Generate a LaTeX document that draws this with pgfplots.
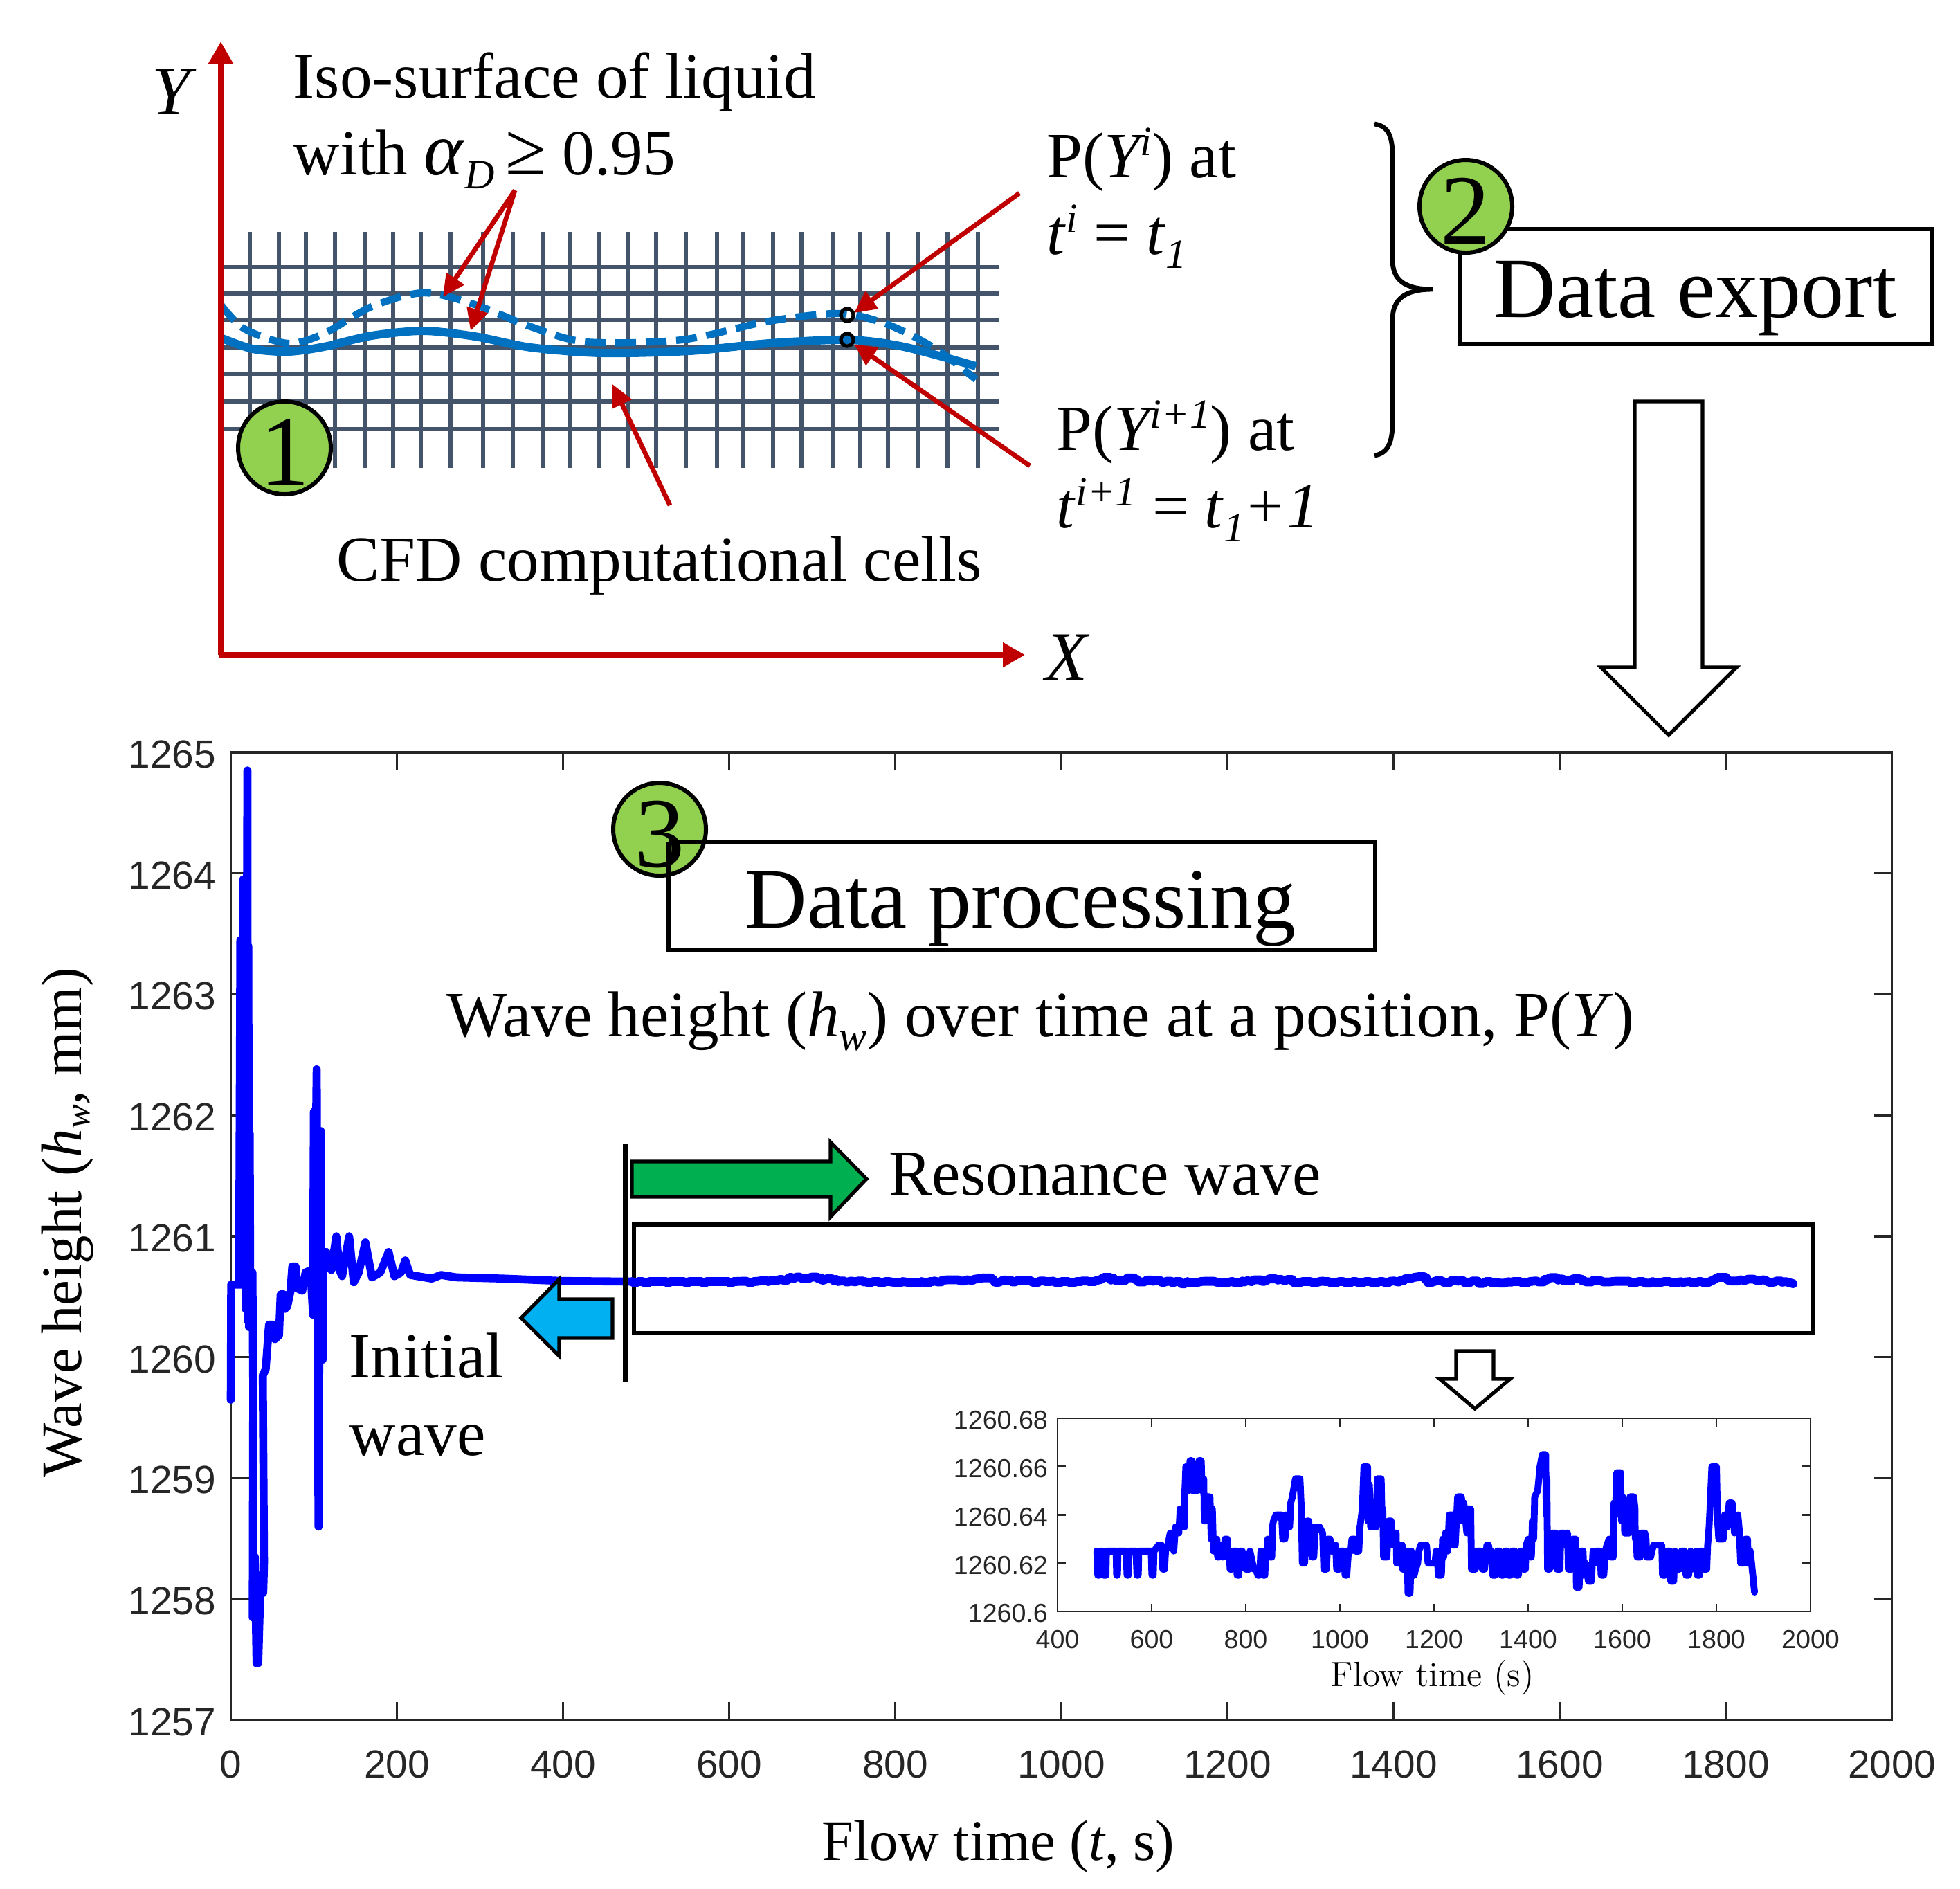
\documentclass[border=0pt]{standalone}
\usepackage{fontspec}
\usepackage{pgfplots}
\usepackage{pgfplotstable}
\pgfplotsset{compat=1.18}
\usetikzlibrary{arrows.meta}
\setmainfont{Liberation Serif}
\newfontfamily\arial{Liberation Sans}
\definecolor{dred}{HTML}{C00000}
\definecolor{gridc}{HTML}{44546A}
\definecolor{wavec}{HTML}{0070C0}
\definecolor{circ}{HTML}{92D050}
\definecolor{ticks}{HTML}{262626}
\newcommand{\fs}[1]{\fontsize{#1}{#1}\selectfont}
\newcommand{\sups}[1]{\raisebox{8pt}{\fs{15}\itshape #1}}
\newcommand{\subs}[1]{\raisebox{-5pt}{\fs{15}\itshape #1}}

% initial wave, t < 480 s
\pgfplotstableread[row sep=\\]{
t v \\
0 1259.65 \\ 0.5 1260.6 \\ 10 1260.6 \\ 11.5 1263.45 \\ 12 1260.6 \\ 12.5 1263.45 \\ 14 1260.6 \\
15 1263.95 \\ 16 1260.6 \\ 17 1263.95 \\ 18 1260.4 \\ 20 1264.85 \\ 20.5 1260.3 \\ 21 1263.4 \\
22 1260.25 \\ 22.7 1261.85 \\ 23.5 1260.25 \\ 25 1260.7 \\ 26 1260.7 \\ 27 1259.75 \\ 26.4 1257.85 \\
29 1258.35 \\ 31 1257.47 \\ 33 1257.47 \\ 36 1258.2 \\ 39 1258.05 \\ 40 1258.3 \\ 38.5 1259.85 \\ 42 1259.9 \\
46 1260.27 \\ 50 1260.27 \\ 53 1260.15 \\ 58 1260.18 \\ 60 1260.52 \\ 64 1260.52 \\ 65 1260.4 \\
68 1260.42 \\ 72 1260.55 \\ 74 1260.75 \\ 78 1260.75 \\ 80 1260.57 \\ 86 1260.55 \\ 90 1260.7 \\
96 1260.72 \\ 99 1260.35 \\ 100 1262.03 \\ 101 1260.35 \\ 102 1261.5 \\ 103.4 1262.38 \\ 104.5 1260.5 \\
105.6 1258.6 \\ 106.5 1260 \\ 108.3 1261.87 \\ 109 1260.3 \\ 110.5 1259.98 \\ 111.6 1260.85 \\
115 1260.87 \\ 121 1260.72 \\ 127 1261.0 \\ 131 1260.72 \\ 134 1260.67 \\ 142.5 1261.0 \\ 148 1260.62 \\
154 1260.7 \\ 162 1260.95 \\ 170 1260.66 \\ 180 1260.7 \\ 190 1260.87 \\ 197 1260.67 \\ 205 1260.7 \\
210 1260.8 \\ 216 1260.68 \\ 242 1260.65 \\ 253 1260.68 \\ 272 1260.66 \\ 327 1260.65 \\ 400 1260.63 \\
483 1260.625 \\
}\initial

% resonance wave, also the inset
\pgfplotstableread[row sep=\\]{
t v \\
483.4 1260.625 \\ 485.3 1260.615 \\ 488.3 1260.615 \\ 490.2 1260.625 \\ 496.1 1260.625 \\ 498 1260.615 \\
503 1260.615 \\ 504 1260.625 \\ 524.5 1260.625 \\ 525.5 1260.615 \\ 527.5 1260.615 \\ 528.5 1260.625 \\
546 1260.625 \\ 547.6 1260.615 \\ 550.5 1260.615 \\ 552 1260.625 \\ 566.7 1260.625 \\ 568.7 1260.615 \\
571.6 1260.615 \\ 572.6 1260.625 \\ 599 1260.625 \\ 600.5 1260.615 \\ 603.5 1260.615 \\ 605 1260.625 \\
614.7 1260.6275 \\ 621 1260.6275 \\ 623.6 1260.6175 \\ 627.5 1260.6175 \\ 629.5 1260.625 \\
634.4 1260.6275 \\ 639.3 1260.6325 \\ 645.6 1260.6325 \\ 647 1260.625 \\ 650.5 1260.635 \\ 655.4 1260.635 \\
657.9 1260.6325 \\ 660.3 1260.6425 \\ 663.8 1260.6425 \\ 665.7 1260.635 \\ 670.1 1260.635 \\ 670.6 1260.65 \\
672.6 1260.66 \\ 675.5 1260.66 \\ 677.5 1260.65 \\ 681.4 1260.6625 \\ 685.3 1260.6625 \\ 687.3 1260.65 \\
696.1 1260.65 \\ 698 1260.66 \\ 700.5 1260.6625 \\ 705.4 1260.6625 \\ 706.9 1260.65 \\ 708.4 1260.655 \\
710.8 1260.655 \\ 711.8 1260.6375 \\ 714.3 1260.6375 \\ 716.7 1260.6475 \\ 724 1260.6475 \\ 726.5 1260.63 \\
729 1260.6425 \\ 731.4 1260.625 \\ 733.9 1260.63 \\ 738.8 1260.63 \\ 740 1260.6225 \\ 743.7 1260.6225 \\
745 1260.6275 \\ 748.6 1260.6275 \\ 751 1260.6225 \\ 756 1260.63 \\ 760.8 1260.63 \\ 761.8 1260.6225 \\
764.8 1260.625 \\ 766.7 1260.6175 \\ 770.6 1260.6175 \\ 773.1 1260.625 \\ 780.4 1260.625 \\ 781.4 1260.615 \\
785.3 1260.615 \\ 787.8 1260.625 \\ 792.7 1260.625 \\ 800 1260.6175 \\ 807.4 1260.6175 \\ 808.9 1260.625 \\
817.2 1260.6175 \\ 821.1 1260.6175 \\ 825.5 1260.615 \\ 829.5 1260.615 \\ 831.9 1260.625 \\ 836.8 1260.615 \\
840.7 1260.615 \\ 841.7 1260.625 \\ 845.1 1260.625 \\ 846.6 1260.63 \\ 851.5 1260.6225 \\ 855.4 1260.6225 \\
856.4 1260.635 \\ 858.9 1260.6375 \\ 863.8 1260.64 \\ 876 1260.64 \\ 878.5 1260.63 \\ 883.4 1260.63 \\
885.8 1260.64 \\ 893.2 1260.635 \\ 895.6 1260.645 \\ 899 1260.6475 \\ 905.4 1260.655 \\ 915.2 1260.655 \\
918 1260.6425 \\ 920.1 1260.62 \\ 925 1260.62 \\ 930 1260.6375 \\ 933.9 1260.6375 \\ 936 1260.63 \\
939.7 1260.635 \\ 941 1260.6225 \\ 944.7 1260.6225 \\ 947.1 1260.635 \\ 956.9 1260.635 \\ 963.3 1260.6325 \\
965.7 1260.6175 \\ 971.6 1260.6175 \\ 974.1 1260.63 \\ 979 1260.63 \\ 981.4 1260.625 \\ 985 1260.625 \\
989 1260.6275 \\ 991 1260.6275 \\ 993 1260.6175 \\ 999 1260.6175 \\ 1000 1260.625 \\ 1008.4 1260.625 \\
1010.8 1260.615 \\ 1014.7 1260.615 \\ 1018.2 1260.625 \\ 1023 1260.625 \\ 1025.5 1260.63 \\ 1031.4 1260.63 \\
1032.9 1260.625 \\ 1040.2 1260.625 \\ 1042.7 1260.635 \\ 1047.6 1260.6425 \\ 1051 1260.66 \\ 1058.9 1260.66 \\
1059.8 1260.6375 \\ 1062.8 1260.6525 \\ 1065.2 1260.635 \\ 1077 1260.635 \\ 1079.5 1260.655 \\ 1087.8 1260.655 \\
1089.3 1260.64 \\ 1091.2 1260.6425 \\ 1092.7 1260.6225 \\ 1100 1260.6225 \\ 1103 1260.6375 \\ 1108.9 1260.6375 \\
1110.3 1260.6275 \\ 1113.8 1260.6325 \\ 1119.7 1260.6325 \\ 1120.6 1260.62 \\ 1124.6 1260.62 \\ 1126.5 1260.6275 \\
1132.4 1260.6275 \\ 1133.4 1260.6175 \\ 1135.8 1260.6175 \\ 1137.3 1260.625 \\ 1143.2 1260.625 \\ 1144.6 1260.6075 \\
1149.1 1260.6075 \\ 1152 1260.625 \\ 1154.5 1260.615 \\ 1157.9 1260.615 \\ 1160.8 1260.6175 \\ 1165.2 1260.62 \\
1167.7 1260.625 \\ 1171.6 1260.6275 \\ 1183.9 1260.6275 \\ 1187.3 1260.62 \\ 1202 1260.62 \\ 1204.5 1260.625 \\
1206.9 1260.625 \\ 1208.9 1260.615 \\ 1215.7 1260.615 \\ 1218.2 1260.63 \\ 1220.6 1260.6225 \\ 1224.1 1260.6325 \\
1229 1260.625 \\ 1232.4 1260.64 \\ 1240.2 1260.64 \\ 1241.2 1260.6275 \\ 1245.1 1260.6275 \\ 1250 1260.6475 \\
1258.4 1260.6475 \\ 1260.8 1260.6375 \\ 1263.3 1260.645 \\ 1269.7 1260.6325 \\ 1271.6 1260.6425 \\ 1278 1260.6425 \\
1279.5 1260.6175 \\ 1287.8 1260.6175 \\ 1290.2 1260.625 \\ 1300 1260.625 \\ 1302.5 1260.6175 \\ 1307.4 1260.6175 \\
1312.3 1260.6275 \\ 1315.7 1260.6275 \\ 1318.2 1260.625 \\ 1322.1 1260.625 \\ 1324.6 1260.615 \\ 1330.4 1260.615 \\
1334.4 1260.625 \\ 1339.3 1260.625 \\ 1343.2 1260.615 \\ 1347.6 1260.615 \\ 1351.1 1260.625 \\ 1355 1260.625 \\
1357.9 1260.615 \\ 1362.8 1260.615 \\ 1366.2 1260.625 \\ 1371.6 1260.625 \\ 1374.6 1260.615 \\ 1379.5 1260.615 \\
1383.4 1260.625 \\ 1387.3 1260.625 \\ 1389.8 1260.6175 \\ 1394.2 1260.6175 \\ 1395.6 1260.6275 \\ 1400.5 1260.63 \\
1405.4 1260.6225 \\ 1406.9 1260.6225 \\ 1408.9 1260.6375 \\ 1411.8 1260.63 \\ 1413.8 1260.6475 \\ 1420.2 1260.65 \\
1425.1 1260.66 \\ 1430 1260.665 \\ 1437.3 1260.665 \\ 1438.3 1260.64 \\ 1439.8 1260.655 \\ 1441.2 1260.6175 \\
1445.6 1260.6175 \\ 1452 1260.6325 \\ 1457.9 1260.6325 \\ 1460.8 1260.6175 \\ 1467.7 1260.6175 \\ 1469.2 1260.6325 \\
1475.5 1260.6325 \\ 1477 1260.6275 \\ 1480.4 1260.6325 \\ 1483.9 1260.6325 \\ 1485.3 1260.6175 \\ 1492.2 1260.6175 \\
1495.1 1260.63 \\ 1501 1260.63 \\ 1502.5 1260.61 \\ 1508.4 1260.61 \\ 1510.8 1260.625 \\ 1516.7 1260.625 \\
1518.2 1260.615 \\ 1522.1 1260.62 \\ 1528 1260.6125 \\ 1534.4 1260.6125 \\ 1537.8 1260.625 \\ 1541.2 1260.62 \\
1544.2 1260.625 \\ 1552.5 1260.625 \\ 1555 1260.615 \\ 1560.8 1260.615 \\ 1563.8 1260.625 \\ 1567.2 1260.6275 \\
1572.1 1260.63 \\ 1574.6 1260.6225 \\ 1580.9 1260.6225 \\ 1582.4 1260.645 \\ 1585.3 1260.64 \\ 1588.3 1260.6575 \\
1596.6 1260.6575 \\ 1598.1 1260.6375 \\ 1601 1260.6475 \\ 1604 1260.645 \\ 1605 1260.6325 \\ 1614.8 1260.6325 \\
1616.2 1260.6475 \\ 1624.6 1260.6475 \\ 1627 1260.6425 \\ 1627.5 1260.63 \\ 1630 1260.63 \\ 1631.4 1260.6225 \\
1638.3 1260.6225 \\ 1639.8 1260.6325 \\ 1648.1 1260.6325 \\ 1650.5 1260.63 \\ 1652 1260.6225 \\ 1660.4 1260.6225 \\
1662.8 1260.625 \\ 1666.7 1260.6275 \\ 1683.9 1260.6275 \\ 1685.4 1260.615 \\ 1691.2 1260.615 \\ 1694.7 1260.625 \\
1701 1260.625 \\ 1703 1260.6125 \\ 1709.4 1260.6125 \\ 1711.8 1260.625 \\ 1715.7 1260.6175 \\ 1721.6 1260.6175 \\
1725.5 1260.625 \\ 1732.4 1260.625 \\ 1735.4 1260.615 \\ 1741.2 1260.615 \\ 1745.2 1260.625 \\ 1748.6 1260.6175 \\
1752 1260.6225 \\ 1757 1260.625 \\ 1759.4 1260.615 \\ 1764.3 1260.615 \\ 1766.7 1260.625 \\ 1770.6 1260.625 \\
1773.1 1260.6175 \\ 1779.5 1260.6175 \\ 1781.4 1260.6275 \\ 1784.4 1260.635 \\ 1786.3 1260.6425 \\ 1790.3 1260.66 \\
1800.1 1260.66 \\ 1802.5 1260.6375 \\ 1805 1260.63 \\ 1814.8 1260.63 \\ 1817.2 1260.64 \\ 1823.1 1260.635 \\
1827 1260.645 \\ 1833.4 1260.645 \\ 1835.3 1260.64 \\ 1838.3 1260.6325 \\ 1845.6 1260.64 \\ 1848.1 1260.635 \\
1851.5 1260.62 \\ 1857.9 1260.62 \\ 1861.3 1260.63 \\ 1866.2 1260.63 \\ 1867.7 1260.62 \\ 1872.1 1260.625 \\
1876 1260.6175 \\ 1881 1260.608 \\
}\resonance

\pgfplotsset{
  page/.style={at={(0pt,0pt)},anchor=north west,scale only axis,width=708pt,height=682pt,
    xmin=0,xmax=2832,ymin=0,ymax=2728,y dir=reverse,hide axis,clip=false},
  matlab/.style={scale only axis,clip=false,tick align=inside,tick pos=both,
    ticklabel style={color=ticks},
    /pgf/number format/1000 sep={},/pgf/number format/fixed,/pgf/number format/precision=2,
    /pgf/number format/assume math mode=true,scaled ticks=false},
}
\tikzset{
  wave/.style={color=blue,line cap=round,line join=round},
  txt/.style={anchor=base west,inner sep=0pt,font=\fs{23.3}},
  num/.style={circle,draw=black,fill=circ,line width=1.5pt,minimum size=33.5pt,inner sep=0pt},
  digit/.style={anchor=base,inner sep=0pt,font=\fs{36}},
  rarrow/.style={color=dred,line width=1.7pt,-{Triangle[length=8pt,width=7.5pt]}},
}

\begin{document}
\begin{tikzpicture}
\useasboundingbox (0pt,0pt) rectangle (708pt,-682pt);

% things that lie under the main curve
\begin{axis}[page]
  \draw[line width=1.3pt] (916,1769) rectangle (2620,1926);
\end{axis}

% main plot
\begin{axis}[matlab,at={(83.375pt,-621.25pt)},anchor=south west,width=600pt,height=349.5pt,
  xmin=0,xmax=2000,ymin=1257,ymax=1265,
  xtick={0,200,...,2000},ytick={1257,1258,...,1265},
  major tick length=6.5pt,axis line style={line width=0.8pt,color=ticks},tick style={line width=0.8pt,color=ticks},
  ticklabel style={font=\arial\fs{14.2}},
  xticklabel style={yshift=-7.5pt},
  yticklabel style={xshift=-1.8pt,yshift=-0.7pt},
  xlabel={Flow time (\textit{t}, s)},
  xlabel style={font=\fs{20.7},at={(axis description cs:0.462,-0.1445)},anchor=base},
  ylabel={Wave height (\textit{h}\raisebox{-3pt}{\fs{13}\itshape w}, mm)},
  ylabel style={font=\fs{20.7},at={(axis description cs:-0.0902,0.514)},anchor=base},
]
\addplot[wave,no markers,line width=2.9pt] table[x=t,y=v] {\initial};
\addplot[wave,no markers,line width=3.2pt] table[x=t,y=v] {\resonance};
\end{axis}

% inset
\begin{axis}[matlab,at={(382pt,-582pt)},anchor=south west,width=272pt,height=69.75pt,
  xmin=400,xmax=2000,ymin=1260.6,ymax=1260.68,
  xtick={400,600,...,2000},ytick={1260.6,1260.62,1260.64,1260.66,1260.68},
  yticklabels={1260.6,1260.62,1260.64,1260.66,1260.68},
  major tick length=2.9pt,axis line style={line width=0.7pt,color=ticks},tick style={line width=0.7pt,color=ticks},
  ticklabel style={font=\arial\fs{9.4}},
  xticklabel style={yshift=-3.2pt},
  yticklabel style={yshift=-0.7pt},
  xlabel={\fontfamily{lmr}\selectfont Flow time (s)},
  xlabel style={font=\fs{12.7},at={(axis description cs:0.498,-0.387)},anchor=base},
]
\addplot[wave,no markers,line width=2.45pt] table[x=t,y=v] {\resonance};
\end{axis}

% schematic and annotations, axis units are reference pixels
\begin{axis}[page]
  % computational cells
  \pgfplotsinvokeforeach{361,403,442,484,527,568,608,651,698,741,784,824,865,908,948,991,1036,1074,1117,1158,1203,1243,1283,1326,1369,1413}{
    \addplot[color=gridc,line width=1.3pt,forget plot] coordinates {(#1,335) (#1,676)};
  }
  \pgfplotsinvokeforeach{386,424,462,502,540,580,620}{
    \addplot[color=gridc,line width=1.3pt,forget plot] coordinates {(319,#1) (1444,#1)};
  }
  % interface at the two times
  \addplot[color=wavec,line width=2.6pt,smooth,dash pattern=on 7.5pt off 3.5pt,forget plot] coordinates {
    (319,440) (353,475) (416,496) (468,482) (537,443) (612,423) (686,440) (767,472)
    (847,494) (985,491) (1111,464) (1214,453) (1283,469) (1352,504) (1410,548)};
  \addplot[color=wavec,line width=3pt,smooth,forget plot] coordinates {
    (319,488) (365,504) (416,508) (468,501) (537,485) (612,478) (686,486) (767,502)
    (870,510) (996,507) (1111,496) (1226,491) (1306,501) (1410,529)};
  \node[circle,draw=black,line width=1.3pt,minimum size=4.5pt,inner sep=0pt] at (1224,455) {};
  \node[circle,draw=black,line width=1.3pt,minimum size=4.5pt,inner sep=0pt] at (1224,491) {};
  % X and Y axes of the sketch
  \draw[color=dred,line width=2pt,-{Triangle[length=8pt,width=8.5pt]}] (319,946) -- (319,60);
  \draw[color=dred,line width=2pt,-{Triangle[length=8pt,width=8.5pt]}] (316,946) -- (1481,946);
  % pointers
  \draw[rarrow] (744,275) -- (640,429);
  \draw[rarrow] (744,275) -- (680,478);
  \draw[rarrow] (1473,279) -- (1234,452);
  \draw[rarrow] (1488,673) -- (1234,497);
  \draw[rarrow] (968,730) -- (885,555);
  % boxes
  \draw[line width=1.5pt] (2109,331) rectangle (2792,497);
  \draw[line width=1.5pt] (966,1217) rectangle (1987,1372);
  % brace
  \draw[line width=1.7pt] (1986,179) .. controls (2005,182) and (2012,195) .. (2012,225)
    -- (2012,375) .. controls (2012,405) and (2030,418) .. (2070,418)
    .. controls (2030,418) and (2012,432) .. (2012,462)
    -- (2012,610) .. controls (2012,640) and (2005,655) .. (1986,658);
  % hollow arrows
  \draw[line width=1.3pt,fill=white] (2362,580) -- (2460,580) -- (2460,964) -- (2509,964) -- (2411,1062)
    -- (2313,964) -- (2362,964) -- cycle;
  \draw[line width=1.3pt,fill=white] (2104,1952) -- (2158,1952) -- (2158,1992) -- (2182,1992) -- (2131,2035)
    -- (2080,1992) -- (2104,1992) -- cycle;
  % filled arrows
  \draw[line width=1.3pt,fill={rgb,255:red,0;green,176;blue,80}] (913,1678) -- (1200,1678) -- (1200,1650)
    -- (1252,1703) -- (1200,1758) -- (1200,1729) -- (913,1729) -- cycle;
  \draw[line width=1.3pt,fill={rgb,255:red,0;green,176;blue,240}] (885,1877) -- (808,1877) -- (808,1848)
    -- (753,1904) -- (808,1959) -- (808,1933) -- (885,1933) -- cycle;
  \draw[line width=2pt] (904,1653) -- (904,1997);
  % number circles
  \node[num] at (411,647) {};
  \node[digit] at (411,700) {1};
  \node[num] at (2118,298) {};
  \node[digit] at (2117,352) {2};
  \node[num] at (953,1198) {};
  \draw[line width=1.5pt] (966,1217) -- (966,1372);
  \draw[line width=1.5pt] (966,1217) -- (1030,1217);
  \node[digit] at (953,1252) {3};
  % labels
  \node[anchor=base,inner sep=0pt,font=\fs{25}\itshape] at (247,165) {Y};
  \node[anchor=base,inner sep=0pt,font=\fs{25}\itshape] at (1541,982) {X};
  \node[txt] at (423,141) {Iso-surface of liquid};
  \node[txt] at (423,252) {with {\fs{27}\textit{α}}\subs{D}\,{\fs{27}≥} 0.95};
  \node[txt] at (1512,256) {P(\textit{Y}\kern-2pt\sups{i}) at};
  \node[txt] at (1512,367) {\textit{t}\sups{i} = \textit{t}\subs{1}};
  \node[txt] at (1526,650) {P(\textit{Y}\kern-2pt\sups{i+1}) at};
  \node[txt] at (1526,762) {\textit{t}\sups{i+1} = \textit{t}\subs{1}\kern1pt+\kern1pt\textit{1}};
  \node[txt] at (486,839) {CFD computational cells};
  \node[txt,font=\fs{31}] at (2158,458) {Data export};
  \node[txt,font=\fs{31}] at (1076,1340) {Data processing};
  \node[txt] at (645,1497) {Wave height (\textit{h}\subs{w}) over time at a position, P(\textit{Y})};
  \node[txt] at (1284,1726) {Resonance wave};
  \node[txt] at (504,1990) {Initial};
  \node[txt] at (504,2102) {wave};
\end{axis}
\end{tikzpicture}
\end{document}
